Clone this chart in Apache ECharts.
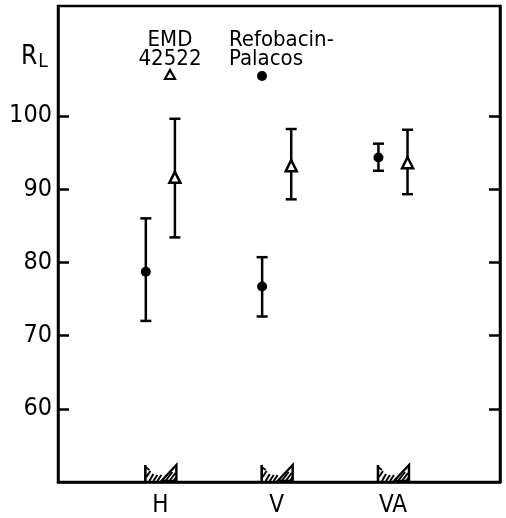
<!DOCTYPE html>
<html>
<head>
<meta charset="utf-8">
<script src="https://cdn.jsdelivr.net/npm/echarts@6/dist/echarts.min.js"></script>
<style>
  html, body { margin: 0; padding: 0; background: #fff; }
  #chart { width: 506px; height: 518px; }
</style>
</head>
<body>
<div id="chart"></div>
<script>
const categories = ['H', 'V', 'VA'];
// Refobacin-Palacos (filled dots)
const refoMean = [78.7, 76.7, 94.3];
const refoLow = [72.0, 72.6, 92.5];
const refoHigh = [86.0, 80.7, 96.2];
// EMD 42522 (open triangles)
const emdMean = [91.6, 93.2, 93.6];
const emdLow = [83.4, 88.6, 89.3];
const emdHigh = [99.6, 98.2, 98.1];
const yTicks = [60, 70, 80, 90, 100];

const FONT = "'Liberation Sans Narrow', 'DejaVu Sans Condensed', 'Liberation Sans', sans-serif";
const shift = 0.125;

const refoPts = categories.map((c, i) => [i + 1 - shift, refoMean[i], refoLow[i], refoHigh[i]]);
const emdPts = categories.map((c, i) => [i + 1 + shift, emdMean[i], emdLow[i], emdHigh[i]]);

function errorBar(params, api) {
  const x = api.value(0);
  const lo = api.coord([x, api.value(2)]);
  const hi = api.coord([x, api.value(3)]);
  const s = { stroke: '#000', lineWidth: 2.5 };
  return {
    type: 'group',
    children: [
      { type: 'line', shape: { x1: lo[0], y1: lo[1], x2: hi[0], y2: hi[1] }, style: s },
      { type: 'line', shape: { x1: lo[0] - 5.5, y1: lo[1], x2: lo[0] + 5.5, y2: lo[1] }, style: s },
      { type: 'line', shape: { x1: hi[0] - 5.5, y1: hi[1], x2: hi[0] + 5.5, y2: hi[1] }, style: s }
    ]
  };
}

// small hatched "support" symbol sitting on the x axis under each group
function groundMark(params, api) {
  const p = api.coord([api.value(0), api.value(1)]);
  const x = p[0], y = p[1];
  const s = { stroke: '#000', lineWidth: 2.6 };
  const t = { stroke: '#000', lineWidth: 2 };
  const L = (x1, y1, x2, y2, st) => ({ type: 'line', shape: { x1: x + x1, y1: y + y1, x2: x + x2, y2: y + y2 }, style: st });
  return {
    type: 'group',
    children: [
      L(-15, -17, -15, -1, s),
      L(-15, -15, -11, -12, t),
      L(-14, -5, -10, -11, t),
      L(-11, -1, -7, -8, t),
      L(-7, -1, -3, -7, t),
      L(-3, -1, 1, -7, t),
      { type: 'polygon', shape: { points: [[x + 1, y - 1], [x + 16, y - 17], [x + 16, y - 1]] }, style: { fill: 'none', stroke: '#000', lineWidth: 2.4 } },
      L(5, -1, 12, -10, t),
      L(9, -1, 15, -9, t),
      L(13, -1, 16, -5, t)
    ]
  };
}

const chart = echarts.init(document.getElementById('chart'), null, { renderer: 'canvas' });

const option = {
  backgroundColor: '#fff',
  animation: false,
  grid: {
    left: 58, right: 6, top: 6, bottom: 35,
    show: true, borderColor: '#000', borderWidth: 2.5, backgroundColor: 'transparent'
  },
  xAxis: {
    type: 'value',
    min: 0.12,
    max: 3.92,
    splitLine: { show: false },
    axisLine: { lineStyle: { color: '#000', width: 2.5 } },
    axisTick: { show: false },
    axisLabel: {
      customValues: [1, 2, 3],
      formatter: v => categories[Math.round(v) - 1],
      color: '#000',
      fontFamily: FONT,
      fontSize: 24,
      margin: 12
    }
  },
  yAxis: [
    {
      type: 'value',
      min: 50,
      max: 115,
      splitLine: { show: false },
      axisLine: { show: true, lineStyle: { color: '#000', width: 2.5 } },
      axisTick: { customValues: yTicks, inside: true, length: 11, lineStyle: { color: '#000', width: 2.5 } },
      axisLabel: { customValues: yTicks, color: '#000', fontFamily: FONT, fontSize: 25, margin: 6 }
    },
    {
      type: 'value',
      position: 'right',
      min: 50,
      max: 115,
      splitLine: { show: false },
      axisLine: { show: true, lineStyle: { color: '#000', width: 2.5 } },
      axisTick: { customValues: yTicks, inside: true, length: 11, lineStyle: { color: '#000', width: 2.5 } },
      axisLabel: { show: false }
    }
  ],
  series: [
    {
      type: 'custom',
      renderItem: errorBar,
      data: refoPts,
      encode: { x: 0, y: [2, 3] },
      z: 2
    },
    {
      type: 'custom',
      renderItem: errorBar,
      data: emdPts,
      encode: { x: 0, y: [2, 3] },
      z: 2
    },
    {
      name: 'Refobacin-Palacos',
      type: 'scatter',
      data: refoPts.map(p => [p[0], p[1]]),
      symbol: 'circle',
      symbolSize: 10,
      itemStyle: { color: '#000', opacity: 1 },
      z: 3
    },
    {
      name: 'EMD 42522',
      type: 'scatter',
      data: emdPts.map(p => [p[0], p[1]]),
      symbol: 'triangle',
      symbolSize: [11, 11],
      itemStyle: { color: '#fff', borderColor: '#000', borderWidth: 2.5, opacity: 1 },
      z: 3
    },
    {
      type: 'custom',
      renderItem: groundMark,
      data: categories.map((c, i) => [i + 1, 50]),
      z: 4,
      silent: true
    }
  ],
  graphic: [
    {
      type: 'text', left: 21, top: 44,
      style: {
        text: '{r|R}{s|L}',
        rich: {
          r: { fontFamily: FONT, fontSize: 26, fill: '#000' },
          s: { fontFamily: FONT, fontSize: 19, fill: '#000', padding: [10, 0, 0, 1] }
        }
      }
    },
    {
      type: 'text', x: 170, y: 31,
      style: { text: 'EMD\n42522', fontFamily: FONT, fontSize: 22, lineHeight: 19, fill: '#000', align: 'center' }
    },
    {
      type: 'text', x: 229, y: 31,
      style: { text: 'Refobacin-\nPalacos', fontFamily: FONT, fontSize: 22, lineHeight: 19, fill: '#000', align: 'left' }
    },
    {
      type: 'polygon',
      shape: { points: [[170, 70], [175, 79], [165, 79]] },
      style: { fill: '#fff', stroke: '#000', lineWidth: 2.2 }
    },
    {
      type: 'circle',
      shape: { cx: 262, cy: 76, r: 5 },
      style: { fill: '#000' }
    }
  ]
};

chart.setOption(option);
</script>
</body>
</html>
